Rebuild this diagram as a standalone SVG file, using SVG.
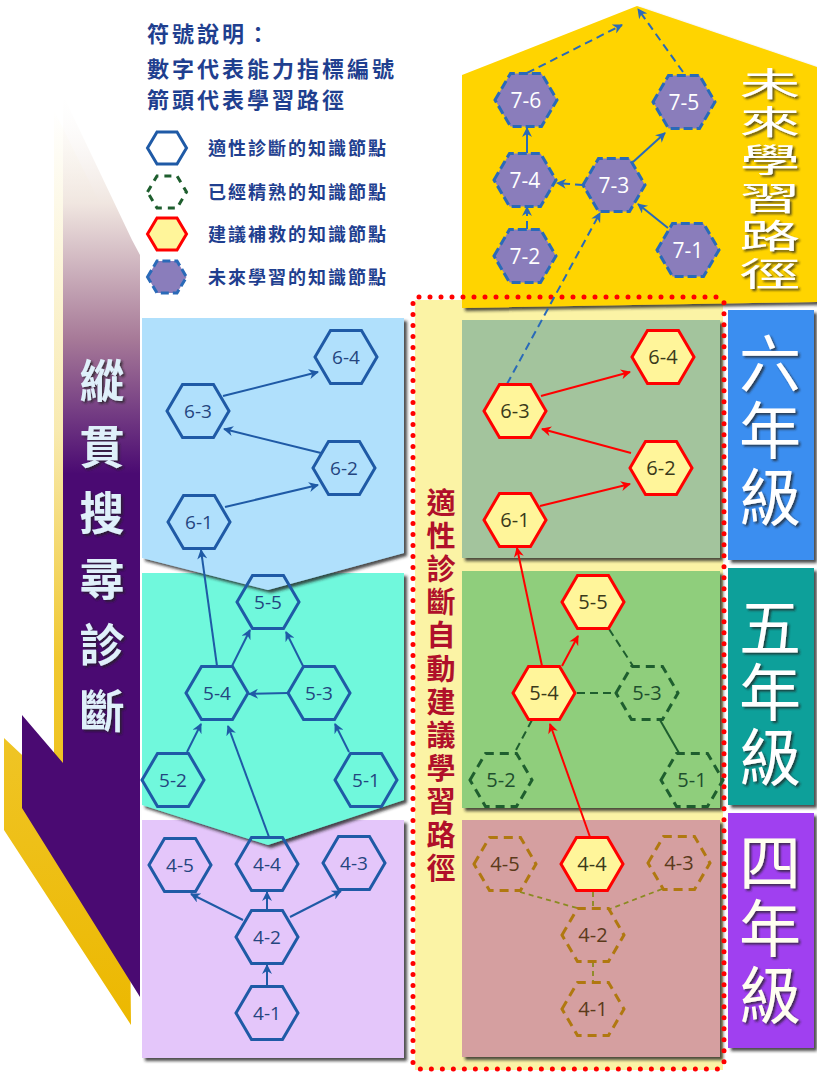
<svg xmlns="http://www.w3.org/2000/svg" width="817" height="1073" viewBox="0 0 817 1073">
<style>
.cjk{font-family:"Noto Sans CJK TC","Noto Sans CJK SC",sans-serif}
.vt{writing-mode:vertical-rl;text-orientation:upright}
.num{font-family:"Open Sans","Noto Sans",sans-serif;text-anchor:middle;font-size:19px}
.hb{fill:none;stroke:#1f5aa6;stroke-width:3}
.hg{fill:none;stroke:#1e5e2e;stroke-width:3;stroke-dasharray:9 6}
.hr{fill:#fff59a;stroke:#ff0000;stroke-width:3}
.hp{fill:#8a7dbb;stroke:#2a6ab8;stroke-width:3;stroke-dasharray:9 4}
.ho{fill:none;stroke:#b07810;stroke-width:3;stroke-dasharray:9 6}
.tb{fill:#24457f}
.tg{fill:#1e4e2e;font-size:20px}
.tr{fill:#3a3a1a;font-size:20px}
.tp{fill:#ffffff;font-size:21px}
.to{fill:#5a3a1a;font-size:20px}
.cb{stroke:#1f5aa6;stroke-width:2;fill:none;marker-end:url(#ab)}
.cr{stroke:#ff0000;stroke-width:2;fill:none;marker-end:url(#ar)}
.cp{stroke:#2a6ab8;stroke-width:2;fill:none}
.cpd{stroke:#2a6ab8;stroke-width:2;fill:none;stroke-dasharray:8 5}
.cg{stroke:#1e5e2e;stroke-width:2;fill:none}
.cgd{stroke:#1e5e2e;stroke-width:2;fill:none;stroke-dasharray:8 5}
.cod{stroke:#8a8a20;stroke-width:1.8;fill:none;stroke-dasharray:5 4}
.lbl{font-size:62px}
.leg{fill:#1f3f8f;font-weight:bold}
</style>
<defs>
<path id="hex" d="M-31,0 L-15.5,-26.5 L15.5,-26.5 L31,0 L15.5,26.5 L-15.5,26.5 Z"/>
<path id="hexs" d="M-19.5,0 L-10,-16 L10,-16 L19.5,0 L10,16 L-10,16 Z"/>
<marker id="ab" viewBox="0 0 10 10" refX="9" refY="5" markerWidth="12" markerHeight="10" markerUnits="userSpaceOnUse" orient="auto"><path d="M0,0 L10,5 L0,10 L3,5 Z" fill="#1f5aa6"/></marker>
<marker id="ar" viewBox="0 0 10 10" refX="9" refY="5" markerWidth="12" markerHeight="10" markerUnits="userSpaceOnUse" orient="auto"><path d="M0,0 L10,5 L0,10 L3,5 Z" fill="#ff0000"/></marker>
<marker id="ap" viewBox="0 0 10 10" refX="9" refY="5" markerWidth="12" markerHeight="10" markerUnits="userSpaceOnUse" orient="auto"><path d="M0,0 L10,5 L0,10 L3,5 Z" fill="#2a6ab8"/></marker>
<linearGradient id="gp" x1="0" y1="0" x2="0" y2="1" gradientUnits="objectBoundingBox">
<stop offset="0" stop-color="#ffffff" stop-opacity="0.2"/>
<stop offset="0.12" stop-color="#f0e6e0"/>
<stop offset="0.27" stop-color="#a77a98"/>
<stop offset="0.42" stop-color="#4a0a72"/>
<stop offset="1" stop-color="#4a0a72"/>
</linearGradient>
<linearGradient id="gy" x1="0" y1="0" x2="0" y2="1">
<stop offset="0" stop-color="#ffffff"/>
<stop offset="0.35" stop-color="#f8eab0"/>
<stop offset="0.6" stop-color="#f0c830"/>
<stop offset="1" stop-color="#ecb800"/>
</linearGradient>
<filter id="sh" x="-5%" y="-5%" width="115%" height="115%"><feDropShadow dx="3" dy="3" stdDeviation="1.5" flood-color="#222" flood-opacity="0.8"/></filter>
<filter id="tsh" x="-20%" y="-20%" width="150%" height="150%"><feDropShadow dx="2" dy="2" stdDeviation="1" flood-color="#222" flood-opacity="0.75"/></filter>
</defs>
<rect width="817" height="1073" fill="#ffffff"/>

<g id="left-arrow">
<polygon points="54,110 123,250 131,1025 4,830 4,738 54,785" fill="url(#gy)"/>
<polygon points="63,95 132,240 140,255 140,997 22,808 22,715 63,763" fill="url(#gp)"/>
<text x="102" y="358" class="cjk vt" font-size="45" font-weight="bold" letter-spacing="21" fill="#dff0fa" filter="url(#tsh)">縱貫搜尋診斷</text>
</g>

<g id="left-panels">
<polygon id="panel-l4" points="142,820 404,820 404,1058 142,1058" fill="#e4c6fa" filter="url(#sh)"/>
<polygon id="panel-l5" points="142,573 404,573 404,800 268,845 142,805" fill="#70f8dc" filter="url(#sh)"/>
<polygon id="panel-l6" points="142,318 404,318 404,553 268,590 142,558" fill="#b0e0fc" filter="url(#sh)"/>
</g>

<g id="right-area">
<rect x="415" y="300" width="308" height="770" fill="#fbf3a5"/>
<polygon id="future-bg" points="462,75 637,6 817,67 817,302 462,308" fill="#ffd400" filter="url(#sh)"/>
<rect id="panel-r6" x="462" y="320" width="258" height="238" fill="#a3c49d" filter="url(#sh)"/>
<rect id="panel-r5" x="462" y="571" width="258" height="237" fill="#8fce7c" filter="url(#sh)"/>
<rect id="panel-r4" x="462" y="820" width="258" height="237" fill="#d59fa0" filter="url(#sh)"/>
<rect id="box6" x="728" y="310" width="86" height="250" fill="#3a8ef0" filter="url(#sh)"/>
<rect id="box5" x="728" y="568" width="86" height="237" fill="#10a09a" filter="url(#sh)"/>
<rect id="box4" x="728" y="813" width="86" height="235" fill="#a040f0" filter="url(#sh)"/>
<rect x="413" y="297" width="311" height="772" rx="6" fill="none" stroke="#ff0000" stroke-width="5" stroke-linecap="round" stroke-dasharray="0 11"/>
</g>

<g id="right-labels" class="cjk" filter="url(#tsh)">
<text transform="translate(770,67) scale(1.6,0.88)" x="0" y="0" class="vt" font-size="38" letter-spacing="5" fill="#ffffff">未來學習路徑</text>
<text x="770" y="332" class="vt lbl" letter-spacing="5" fill="#ffffff">六年級</text>
<text x="770" y="596" class="vt lbl" letter-spacing="3" fill="#ffffff">五年級</text>
<text x="770" y="831" class="vt lbl" letter-spacing="4.5" fill="#fffff0">四年級</text>
</g>

<text id="red-label" x="441" y="488" class="cjk vt" fill="#b0102a" font-size="29" font-weight="bold" letter-spacing="4.2">適性診斷自動建議學習路徑</text>

<g id="legend" class="cjk">
<g class="leg" font-size="22" letter-spacing="3">
<text x="147" y="42">符號說明：</text>
<text x="147" y="77">數字代表能力指標編號</text>
<text x="147" y="108">箭頭代表學習路徑</text>
</g>
<use href="#hexs" x="167" y="148" class="hb"/>
<use href="#hexs" x="167" y="192" fill="none" stroke="#1e5e2e" stroke-width="3" stroke-dasharray="7 6"/>
<use href="#hexs" x="167" y="234" class="hr"/>
<use href="#hexs" x="167" y="277" fill="#8a7dbb" stroke="#2a6ab8" stroke-width="3" stroke-dasharray="8 4"/>
<g class="leg" font-size="18" letter-spacing="2">
<text x="208" y="155">適性診斷的知識節點</text>
<text x="208" y="199">已經精熟的知識節點</text>
<text x="208" y="241">建議補救的知識節點</text>
<text x="208" y="284">未來學習的知識節點</text>
</g>
</g>

<g id="connectors">
<path class="cb" d="M223,396 L318,372"/>
<path class="cb" d="M321,453 L224,429"/>
<path class="cb" d="M225,507 L318,485"/>
<path class="cb" d="M217,666 L201,550"/>
<path class="cb" d="M232,666 L250,630"/>
<path class="cb" d="M303,666 L286,632"/>
<path class="cb" d="M288,693 L249,694"/>
<path class="cb" d="M187,752 L201,724"/>
<path class="cb" d="M349,752 L335,724"/>
<path class="cb" d="M269,837 L228,726"/>
<path class="cb" d="M243,920 L191,894"/>
<path class="cb" d="M267,911 L267,892"/>
<path class="cb" d="M290,917 L341,891"/>
<path class="cb" d="M267,987 L267,965"/>
<path class="cr" d="M541,396 L630,372"/>
<path class="cr" d="M631,453 L542,429"/>
<path class="cr" d="M540,506 L630,484"/>
<path class="cr" d="M542,666 L517,548"/>
<path class="cr" d="M562,666 L578,636"/>
<path class="cr" d="M590,837 L550,724"/>
<path class="cgd" d="M609,629 L633,666"/>
<path class="cgd" d="M577,693 L617,693"/>
<path class="cgd" d="M532,720 L515,752"/>
<path class="cg" d="M660,720 L679,753"/>
<path class="cod" d="M520,892 L577,908"/>
<path class="cod" d="M593,892 L593,907"/>
<path class="cod" d="M662,889 L610,909"/>
<path class="cod" d="M593,962 L593,982"/>
<path class="cpd" d="M507,384 L600,213" marker-end="url(#ap)"/>
<path class="cp" d="M668,228 L638,204" marker-end="url(#ap)"/>
<path class="cpd" d="M583,185 L557,183" marker-end="url(#ap)"/>
<path class="cp" d="M633,162 L665,133" marker-end="url(#ap)"/>
<path class="cpd" d="M527,229 L527,207" marker-end="url(#ap)"/>
<path class="cp" d="M527,153 L527,128" marker-end="url(#ap)"/>
<path class="cpd" d="M527,73 L622,25" marker-end="url(#ap)"/>
<path class="cpd" d="M683,72 L638,9" marker-end="url(#ap)"/>
</g>

<g id="nodes-left" class="num">
<g id="l6-4"><use href="#hex" x="346" y="357" class="hb"/><text x="346" y="364" class="tb">6-4</text></g>
<g id="l6-3"><use href="#hex" x="198" y="411" class="hb"/><text x="198" y="418" class="tb">6-3</text></g>
<g id="l6-2"><use href="#hex" x="344" y="468" class="hb"/><text x="344" y="475" class="tb">6-2</text></g>
<g id="l6-1"><use href="#hex" x="199" y="522" class="hb"/><text x="199" y="529" class="tb">6-1</text></g>
<g id="l5-5"><use href="#hex" x="268" y="602" class="hb"/><text x="268" y="609" class="tb">5-5</text></g>
<g id="l5-4"><use href="#hex" x="217" y="693" class="hb"/><text x="217" y="700" class="tb">5-4</text></g>
<g id="l5-3"><use href="#hex" x="319" y="693" class="hb"/><text x="319" y="700" class="tb">5-3</text></g>
<g id="l5-2"><use href="#hex" x="173" y="780" class="hb"/><text x="173" y="787" class="tb">5-2</text></g>
<g id="l5-1"><use href="#hex" x="366" y="780" class="hb"/><text x="366" y="787" class="tb">5-1</text></g>
<g id="l4-5"><use href="#hex" x="180" y="865" class="hb"/><text x="180" y="872" class="tb">4-5</text></g>
<g id="l4-4"><use href="#hex" x="267" y="864" class="hb"/><text x="267" y="871" class="tb">4-4</text></g>
<g id="l4-3"><use href="#hex" x="354" y="863" class="hb"/><text x="354" y="870" class="tb">4-3</text></g>
<g id="l4-2"><use href="#hex" x="267" y="937" class="hb"/><text x="267" y="944" class="tb">4-2</text></g>
<g id="l4-1"><use href="#hex" x="267" y="1013" class="hb"/><text x="267" y="1020" class="tb">4-1</text></g>
</g>

<g id="nodes-right" class="num">
<g id="r7-6"><use href="#hex" x="526" y="100" class="hp"/><text x="526" y="108" class="tp">7-6</text></g>
<g id="r7-5"><use href="#hex" x="684" y="102" class="hp"/><text x="684" y="110" class="tp">7-5</text></g>
<g id="r7-4"><use href="#hex" x="525" y="180" class="hp"/><text x="525" y="188" class="tp">7-4</text></g>
<g id="r7-3"><use href="#hex" x="614" y="185" class="hp"/><text x="614" y="193" class="tp">7-3</text></g>
<g id="r7-2"><use href="#hex" x="525" y="256" class="hp"/><text x="525" y="264" class="tp">7-2</text></g>
<g id="r7-1"><use href="#hex" x="688" y="250" class="hp"/><text x="688" y="258" class="tp">7-1</text></g>
<g id="r6-4"><use href="#hex" x="663" y="357" class="hr"/><text x="663" y="364" class="tr">6-4</text></g>
<g id="r6-3"><use href="#hex" x="515" y="411" class="hr"/><text x="515" y="418" class="tr">6-3</text></g>
<g id="r6-2"><use href="#hex" x="661" y="468" class="hr"/><text x="661" y="475" class="tr">6-2</text></g>
<g id="r6-1"><use href="#hex" x="515" y="520" class="hr"/><text x="515" y="527" class="tr">6-1</text></g>
<g id="r5-5"><use href="#hex" x="593" y="602" class="hr"/><text x="593" y="609" class="tr">5-5</text></g>
<g id="r5-4"><use href="#hex" x="544" y="693" class="hr"/><text x="544" y="700" class="tr">5-4</text></g>
<g id="r5-3"><use href="#hex" x="647" y="693" class="hg"/><text x="647" y="700" class="tg">5-3</text></g>
<g id="r5-2"><use href="#hex" x="501" y="780" class="hg"/><text x="501" y="787" class="tg">5-2</text></g>
<g id="r5-1"><use href="#hex" x="692" y="780" class="hg"/><text x="692" y="787" class="tg">5-1</text></g>
<g id="r4-5"><use href="#hex" x="505" y="864" class="ho"/><text x="505" y="871" class="to">4-5</text></g>
<g id="r4-4"><use href="#hex" x="592" y="864" class="hr"/><text x="592" y="871" class="tr">4-4</text></g>
<g id="r4-3"><use href="#hex" x="679" y="863" class="ho"/><text x="679" y="870" class="to">4-3</text></g>
<g id="r4-2"><use href="#hex" x="593" y="935" class="ho"/><text x="593" y="942" class="to">4-2</text></g>
<g id="r4-1"><use href="#hex" x="593" y="1009" class="ho"/><text x="593" y="1016" class="to">4-1</text></g>
</g>
</svg>
